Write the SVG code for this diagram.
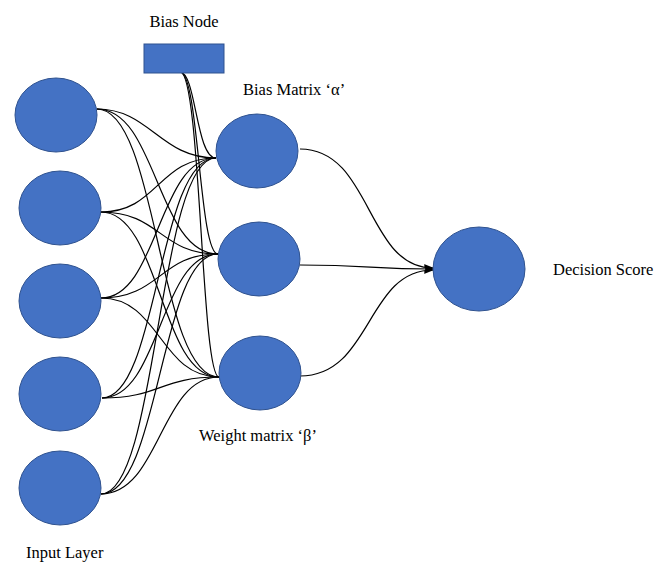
<svg xmlns="http://www.w3.org/2000/svg" width="670" height="562" viewBox="0 0 670 562">
<style>
.n{fill:#4472C4;stroke:#2F528F;stroke-width:1}
.c{fill:none;stroke:#000;stroke-width:1.2}
.t{font-family:'Liberation Serif','Times New Roman','DejaVu Serif',serif;font-size:16.5px;fill:#000}
</style>
<defs>
<marker id="ah" markerWidth="10" markerHeight="8" refX="9" refY="4" orient="auto" markerUnits="userSpaceOnUse">
<path d="M0,0 L10,4 L0,8 L2,4 Z" fill="#000"/>
</marker>
</defs>
<rect width="670" height="562" fill="#fff"/>
<g id="connectors">
<path class="c" d="M97,109 C150,109 160,158 216,158"/>
<path class="c" d="M101,212 C158,212 158,158 216,158"/>
<path class="c" d="M101,298 C158,298 158,158 216,158"/>
<path class="c" d="M102,398 C158,398 158,158 216,158"/>
<path class="c" d="M101,494 C158,494 158,158 216,158"/>
<path class="c" d="M97,109 C157,109 157,254 218,254"/>
<path class="c" d="M101,212 C160,212 160,254 218,254"/>
<path class="c" d="M101,298 C160,298 160,254 218,254"/>
<path class="c" d="M102,398 C160,398 160,254 218,254"/>
<path class="c" d="M101,494 C160,494 160,254 218,254"/>
<path class="c" d="M97,109 C158,109 158,377 219,377"/>
<path class="c" d="M101,212 C160,212 160,377 219,377"/>
<path class="c" d="M101,298 C160,298 160,377 219,377"/>
<path class="c" d="M102,398 C160,398 160,377 219,377"/>
<path class="c" d="M101,494 C160,494 160,377 219,377"/>
<path class="c" d="M180,72 C196,72 196,158 216,158"/>
<path class="c" d="M180,72 C199,72 199,254 218,254"/>
<path class="c" d="M180,72 C201,72 201,377 219,377"/>
<path class="c" d="M300,149 C372,149 366,268 433,268" marker-end="url(#ah)"/>
<path class="c" d="M300,265 C370,265 370,269 433,269" marker-end="url(#ah)"/>
<path class="c" d="M300,376 C372,376 366,270 433,270" marker-end="url(#ah)"/>
</g>
<g id="bias-node"><rect class="n" x="144" y="44" width="80" height="29"/></g>
<g id="input-1"><ellipse class="n" cx="56" cy="115" rx="41" ry="37"/></g>
<g id="input-2"><ellipse class="n" cx="60" cy="208" rx="41" ry="37"/></g>
<g id="input-3"><ellipse class="n" cx="60" cy="301" rx="41" ry="37"/></g>
<g id="input-4"><ellipse class="n" cx="60" cy="394" rx="41" ry="37"/></g>
<g id="input-5"><ellipse class="n" cx="60" cy="488" rx="41" ry="37"/></g>
<g id="hidden-1"><ellipse class="n" cx="257" cy="151" rx="41" ry="37"/></g>
<g id="hidden-2"><ellipse class="n" cx="259" cy="259" rx="41" ry="37"/></g>
<g id="hidden-3"><ellipse class="n" cx="260" cy="373" rx="41" ry="37"/></g>
<g id="output"><ellipse class="n" cx="479" cy="269" rx="46" ry="42"/></g>
<g id="labels">
<text class="t" x="184" y="27" text-anchor="middle">Bias Node</text>
<text class="t" x="243" y="95">Bias Matrix ‘α’</text>
<text class="t" x="199" y="441">Weight matrix ‘β’</text>
<text class="t" x="553" y="275">Decision Score</text>
<text class="t" x="26" y="558">Input Layer</text>
</g>
</svg>
